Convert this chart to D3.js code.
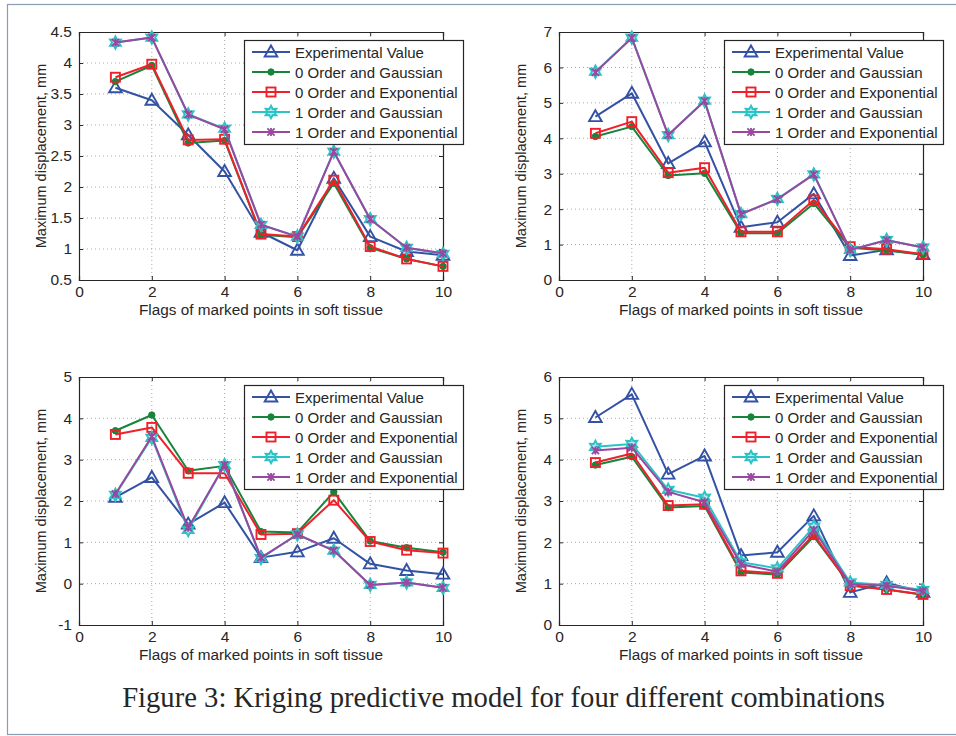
<!DOCTYPE html>
<html><head><meta charset="utf-8">
<script src="https://cdn.jsdelivr.net/npm/d3@7"></script>
<style>
html,body{margin:0;padding:0;background:#fff;}
svg{display:block;}
text{font-family:"Liberation Sans",Arial,sans-serif;fill:#262626;}
</style></head>
<body>
<svg id="c" width="956" height="736"></svg>
<script>
// ---------- data ----------
const flags = [1,2,3,4,5,6,7,8,9,10];
const xTicks = [0,2,4,6,8,10];
const seriesNames = ["Experimental Value","0 Order and Gaussian","0 Order and Exponential","1 Order and Gaussian","1 Order and Exponential"];
const xLabel = "Flags of marked points in soft tissue";
const yLabel = "Maximum displacement, mm";
const caption = "Figure 3: Kriging predictive model for four different combinations";

// Panel A (top left)
const aExp  = [3.60,3.40,2.84,2.25,1.27,0.98,2.14,1.20,0.96,0.90];
const aG0   = [3.70,3.96,2.71,2.75,1.23,1.19,2.06,1.02,0.84,0.72];
const aE0   = [3.77,3.98,2.76,2.77,1.24,1.20,2.11,1.04,0.84,0.72];
const aG1   = [4.33,4.41,3.17,2.94,1.39,1.20,2.57,1.48,1.02,0.92];
const aE1   = [4.33,4.41,3.17,2.93,1.39,1.20,2.57,1.48,1.02,0.93];
const aTicks = [0.5,1,1.5,2,2.5,3,3.5,4,4.5];

// Panel B (top right)
const bExp  = [4.61,5.27,3.29,3.90,1.49,1.63,2.43,0.69,0.85,0.72];
const bG0   = [4.05,4.33,2.95,3.01,1.32,1.32,2.16,0.91,0.83,0.71];
const bE0   = [4.14,4.47,3.03,3.17,1.36,1.36,2.26,0.94,0.87,0.73];
const bG1   = [5.88,6.84,4.09,5.06,1.86,2.29,2.98,0.85,1.13,0.92];
const bE1   = [5.86,6.83,4.09,5.05,1.86,2.28,2.98,0.85,1.12,0.92];
const bTicks = [0,1,2,3,4,5,6,7];

// Panel C (bottom left)
const cExp  = [2.09,2.57,1.44,1.96,0.63,0.77,1.10,0.48,0.32,0.23];
const cG0   = [3.70,4.08,2.73,2.85,1.26,1.24,2.22,1.03,0.87,0.76];
const cE0   = [3.61,3.78,2.67,2.67,1.19,1.21,2.02,1.02,0.81,0.74];
const cG1   = [2.15,3.53,1.30,2.87,0.62,1.19,0.80,-0.03,0.03,-0.10];
const cE1   = [2.17,3.56,1.35,2.87,0.63,1.19,0.80,-0.03,0.03,-0.10];
const cTicks = [-1,0,1,2,3,4,5];

// Panel D (bottom right)
const dExp  = [5.02,5.58,3.65,4.09,1.68,1.76,2.64,0.79,1.02,0.79];
const dG0   = [3.87,4.07,2.84,2.88,1.27,1.22,2.14,0.97,0.86,0.73];
const dE0   = [3.93,4.15,2.89,2.92,1.31,1.25,2.19,0.95,0.86,0.74];
const dG1   = [4.31,4.38,3.27,3.08,1.52,1.37,2.38,1.03,0.97,0.85];
const dE1   = [4.22,4.29,3.22,2.97,1.47,1.29,2.30,0.99,0.95,0.82];
const dTicks = [0,1,2,3,4,5,6];

// ---------- styles ----------
const colors = ["#3452a4","#17843c","#f0202a","#2cc3c6","#9a47a0"];
const markers = ["triangle","circle","square","hexagram","asterisk"];

const panels = [
  {x0:79,  y0:32,  ticks:aTicks, series:[aExp,aG0,aE0,aG1,aE1]},
  {x0:559, y0:32,  ticks:bTicks, series:[bExp,bG0,bE0,bG1,bE1]},
  {x0:79,  y0:377, ticks:cTicks, series:[cExp,cG0,cE0,cG1,cE1]},
  {x0:559, y0:377, ticks:dTicks, series:[dExp,dG0,dE0,dG1,dE1]}
];
const W = 364, H = 248;

const svg = d3.select("#c");

// outer frame
svg.append("rect").attr("x",7.5).attr("y",4.5).attr("width",960).attr("height",730)
  .attr("fill","none").attr("stroke","#8b9cb2").attr("stroke-width",1.2);

function drawMarker(g, type, color, x, y){
  if(type==="triangle"){
    const s=6;
    g.append("path").attr("d",`M${x},${y-s-0.5}L${x+s*1.05},${y+s*0.75}L${x-s*1.05},${y+s*0.75}Z`)
      .attr("fill","none").attr("stroke",color).attr("stroke-width",1.9);
  } else if(type==="circle"){
    g.append("circle").attr("cx",x).attr("cy",y).attr("r",3.2).attr("fill",color).attr("stroke",color).attr("stroke-width",1);
  } else if(type==="square"){
    const s=4.5;
    g.append("rect").attr("x",x-s).attr("y",y-s).attr("width",2*s).attr("height",2*s)
      .attr("fill","none").attr("stroke",color).attr("stroke-width",1.9);
  } else if(type==="hexagram"){
    const R=6.2, r=3.4; let d="";
    for(let i=0;i<12;i++){
      const a=-Math.PI/2+i*Math.PI/6, rr=(i%2===0)?R:r;
      d+=(i===0?"M":"L")+(x+rr*Math.cos(a)).toFixed(2)+","+(y+rr*Math.sin(a)).toFixed(2);
    }
    g.append("path").attr("d",d+"Z").attr("fill",color).attr("fill-opacity",0.35).attr("stroke",color).attr("stroke-width",1.9);
  } else if(type==="asterisk"){
    const s=3.6;
    g.append("path").attr("d",`M${x-s},${y-s}L${x+s},${y+s}M${x-s},${y+s}L${x+s},${y-s}M${x},${y-s*1.1}L${x},${y+s*1.1}`)
      .attr("stroke",color).attr("stroke-width",1.8).attr("fill","none");
  }
}

panels.forEach(p=>{
  const g = svg.append("g");
  const x = d3.scaleLinear().domain([0,10]).range([p.x0, p.x0+W]);
  const yd = d3.extent(p.ticks);
  const y = d3.scaleLinear().domain(yd).range([p.y0+H, p.y0]);

  // grid
  xTicks.slice(1,-1).forEach(t=>{
    g.append("line").attr("x1",x(t)).attr("x2",x(t)).attr("y1",p.y0).attr("y2",p.y0+H)
      .attr("stroke","#aaaaaa").attr("stroke-width",1).attr("stroke-dasharray","1,3");
  });
  p.ticks.slice(1,-1).forEach(t=>{
    g.append("line").attr("x1",p.x0).attr("x2",p.x0+W).attr("y1",y(t)).attr("y2",y(t))
      .attr("stroke","#aaaaaa").attr("stroke-width",1).attr("stroke-dasharray","1,3");
  });

  // axes (ticks inward)
  const axB = d3.axisBottom(x).tickValues(xTicks).tickSize(-4).tickPadding(6).tickFormat(d3.format("d"));
  const axT = d3.axisTop(x).tickValues(xTicks).tickSize(-4).tickFormat("");
  const axL = d3.axisLeft(y).tickValues(p.ticks).tickSize(-4).tickPadding(7).tickFormat(d=>String(d));
  const axR = d3.axisRight(y).tickValues(p.ticks).tickSize(-4).tickFormat("");
  [[axB,`translate(0,${p.y0+H})`],[axT,`translate(0,${p.y0})`],[axL,`translate(${p.x0},0)`],[axR,`translate(${p.x0+W},0)`]]
   .forEach(([ax,tr])=>{
     const a = g.append("g").attr("transform",tr).call(ax);
     a.select(".domain").attr("stroke","#262626").attr("stroke-width",1.2);
     a.selectAll(".tick line").attr("stroke","#262626");
     a.selectAll("text").attr("fill","#262626").style("font-size","15.5px").style("font-family","Liberation Sans, Arial, sans-serif");
   });

  // labels
  g.append("text").attr("x",p.x0+W/2).attr("y",p.y0+H+35).attr("text-anchor","middle")
    .style("font-size","15.3px").text(xLabel);
  g.append("text").attr("transform",`translate(${p.x0-33},${p.y0+H/2}) rotate(-90)`)
    .attr("text-anchor","middle").style("font-size","14.5px").text(yLabel);

  // series
  const line = d3.line().x((d,i)=>x(flags[i])).y(d=>y(d));
  p.series.forEach((vals,si)=>{
    g.append("path").datum(vals).attr("d",line).attr("fill","none")
      .attr("stroke",colors[si]).attr("stroke-width",2).attr("stroke-linejoin","round");
    vals.forEach((v,i)=>drawMarker(g,markers[si],colors[si],x(flags[i]),y(v)));
  });

  // legend
  const lx = p.x0+W-199, ly = p.y0+8;
  g.append("rect").attr("x",lx+0.5).attr("y",ly+0.5).attr("width",219).attr("height",104)
    .attr("fill","#fff").attr("stroke","#262626").attr("stroke-width",1.2);
  seriesNames.forEach((n,si)=>{
    const yy = ly+12+si*20;
    g.append("line").attr("x1",lx+8).attr("x2",lx+46).attr("y1",yy).attr("y2",yy)
      .attr("stroke",colors[si]).attr("stroke-width",2);
    drawMarker(g,markers[si],colors[si],lx+27,yy);
    g.append("text").attr("x",lx+51).attr("y",yy+5.5).style("font-size","15px").text(n);
  });
});

// caption
const cap = svg.append("text").attr("x",503.5).attr("y",707).attr("text-anchor","middle")
  .style("font-family","'Liberation Serif','Times New Roman',serif").style("font-size","25px")
  .attr("fill","#111").text(caption);
const len = cap.node().getComputedTextLength();
cap.style("font-size",(25*763/len).toFixed(2)+"px");
</script>
</body></html>
